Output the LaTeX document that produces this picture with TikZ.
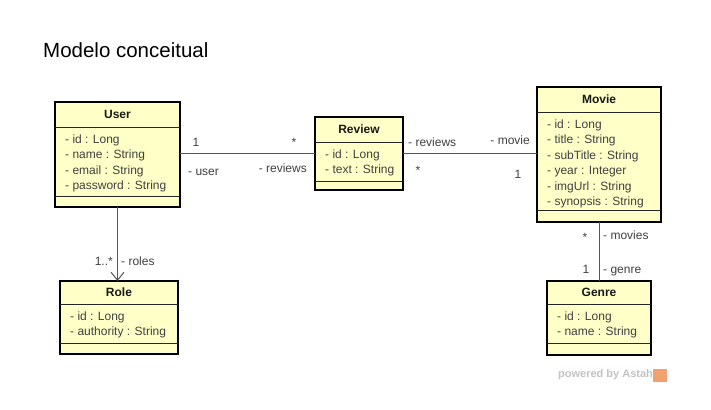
\documentclass[tikz,border=0pt]{standalone}
\usepackage{fontspec}
\setmainfont{Liberation Sans}
\usetikzlibrary{arrows.meta}
\definecolor{classfill}{RGB}{255,255,200}
\definecolor{labelgray}{RGB}{64,64,64}
\definecolor{linegray}{RGB}{85,85,85}
\definecolor{astahgray}{RGB}{195,195,195}
\definecolor{astahorange}{RGB}{242,160,110}
\tikzset{
  classbox/.style={draw=black, line width=1.8pt, fill=classfill, inner sep=0pt, outer sep=0pt},
  divider/.style={draw=black!85, line width=0.9pt},
  classtitle/.style={font=\fontsize{12}{14}\selectfont\bfseries, text height=8.6pt, text depth=0pt, inner sep=0pt, text=black!90},
  attrs/.style={font=\fontsize{12}{15.5}\selectfont, align=left, anchor=north west, inner sep=0pt, text=labelgray},
  lbl/.style={font=\fontsize{12}{14}\selectfont, text height=8.6pt, text depth=0pt, inner sep=0pt, text=labelgray},
  assoc/.style={draw=linegray, line width=1pt},
}
\newcommand\umlclass[9]{%
  \node[classbox, minimum width={(#4-#2)*1pt}, minimum height={(#5-#3)*1pt}, anchor=north west] (#1) at (#2,#3) {};
  \draw[divider] (#2,#6) -- (#4,#6);
  \draw[divider] (#2,#7) -- (#4,#7);
  \node[classtitle] (#1-title) at ({(#2+#4)/2},{(#3+#6)/2}) {#8};
  \node[attrs] (#1-attrs) at (#2+10,#6+7.3) {#9};
}
\begin{document}
\begin{tikzpicture}[x=1pt,y=-1pt]
\useasboundingbox (0,0) rectangle (711,409);
\fill[white] (0,0) rectangle (711,409);

\node[anchor=base west, inner sep=0pt, font=\fontsize{20.5}{24}\selectfont] (title) at (43,58) {Modelo conceitual};

\umlclass{user}{55}{102}{180}{207}{127}{196}{User}{- id : Long\\- name : String\\- email : String\\- password : String}
\umlclass{review}{315}{117}{403}{190}{142}{181}{Review}{- id : Long\\- text : String}
\umlclass{movie}{537}{87}{661}{222}{112}{210}{Movie}{- id : Long\\- title : String\\- subTitle : String\\- year : Integer\\- imgUrl : String\\- synopsis : String}
\umlclass{role}{60}{281}{178}{354}{304}{343}{Role}{- id : Long\\- authority : String}
\umlclass{genre}{547}{281}{651}{355}{304}{343}{Genre}{- id : Long\\- name : String}

% associations
\draw[assoc] (review.west) -- (review.west -| user.east);
\draw[assoc] (review.east) -- (review.east -| movie.west);
\draw[assoc, -{Straight Barb[length=8pt,width=13pt,line width=1pt]}] (user.south) -- (user.south |- role.north);
\draw[assoc] (movie.south) -- (movie.south |- genre.north);

% labels user-review
\node[lbl] (l1) at (196,142) {1};
\node[lbl] (l2) at (294,142) {*};
\node[lbl, anchor=west] (l3) at (188,171) {- user};
\node[lbl, anchor=east] (l4) at (307,168) {- reviews};
% labels review-movie
\node[lbl, anchor=west] (l5) at (408,142) {- reviews};
\node[lbl, anchor=east] (l6) at (530,140) {- movie};
\node[lbl] (l7) at (418,170) {*};
\node[lbl] (l8) at (518,174) {1};
% labels user-role
\node[lbl, anchor=east] (l9) at (113,261) {1..*};
\node[lbl, anchor=west] (l10) at (121,261) {- roles};
% labels movie-genre
\node[lbl] (l11) at (585,237) {*};
\node[lbl, anchor=west] (l12) at (603,235) {- movies};
\node[lbl] (l13) at (586,269) {1};
\node[lbl, anchor=west] (l14) at (603,269) {- genre};

% powered by
\node[anchor=west, inner sep=0pt, font=\fontsize{11}{13}\selectfont\bfseries, text=astahgray] (powered) at (558,375) {powered by Astah};
\fill[astahorange] (653,369) rectangle (667,382);
\end{tikzpicture}
\end{document}
